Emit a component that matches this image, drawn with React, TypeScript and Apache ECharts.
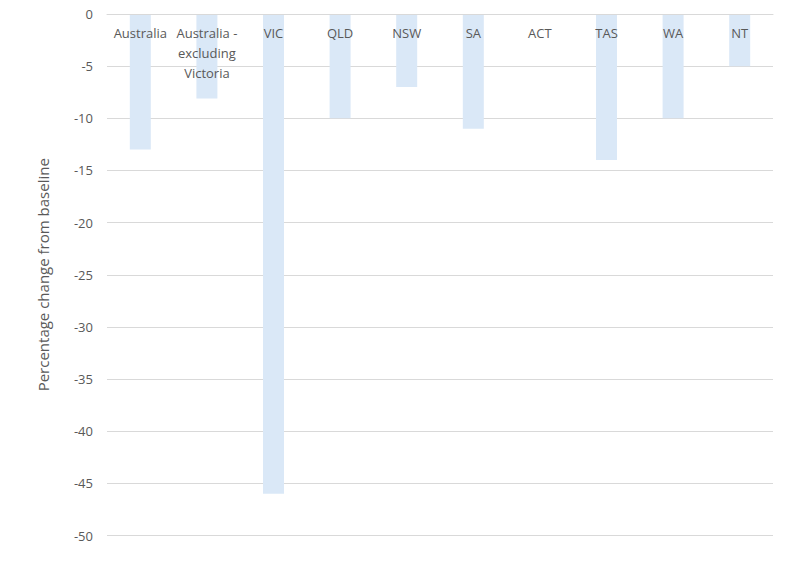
import React, { useEffect, useRef } from "react";
import * as echarts from "echarts";

const categories = [
  "Australia",
  "Australia - excluding Victoria",
  "VIC",
  "QLD",
  "NSW",
  "SA",
  "ACT",
  "TAS",
  "WA",
  "NT",
];
const changeValues = [-13, -8.1, -46, -10, -7, -11, 0, -14, -10, -5];
const yTicks = { min: -50, max: 0, interval: 5 };
const yAxisTitle = "Percentage change from baseline";

export default function App() {
  const ref = useRef<HTMLDivElement>(null);
  useEffect(() => {
    if (!ref.current) return;
    const chart = echarts.init(ref.current, undefined, { renderer: "svg" });
    const font = "'Open Sans', 'Noto Sans', sans-serif";
    chart.setOption({
      animation: false,
      backgroundColor: "#ffffff",
      grid: {
        left: 107,
        right: 27,
        top: 14,
        bottom: 35.5,
        containLabel: false,
        outerBoundsMode: "none",
      },
      xAxis: {
        type: "category",
        data: categories,
        position: "top",
        axisLine: { show: true, lineStyle: { color: "#d9d9d9", width: 1 } },
        axisTick: { show: false },
        axisLabel: {
          inside: true,
          color: "#595959",
          fontFamily: font,
          fontSize: 13,
          lineHeight: 20,
          margin: 9,
          interval: 0,
          verticalAlign: "top",
          formatter: (v: string) => v.replace(" - excluding ", " -\nexcluding\n"),
        },
        z: 3,
      },
      yAxis: {
        type: "value",
        min: yTicks.min,
        max: yTicks.max,
        interval: yTicks.interval,
        name: yAxisTitle,
        nameLocation: "middle",
        nameRotate: 90,
        nameGap: 57,
        nameTextStyle: { color: "#595959", fontFamily: font, fontSize: 15 },
        axisLine: { show: false },
        axisTick: { show: false },
        axisLabel: { color: "#595959", fontFamily: font, fontSize: 13, margin: 14 },
        splitLine: { show: true, lineStyle: { color: "#d9d9d9", width: 1 } },
      },
      series: [
        {
          type: "bar",
          data: changeValues,
          barWidth: 21,
          itemStyle: { color: "#dae8f7" },
          z: 1,
        },
      ],
    });
    return () => chart.dispose();
  }, []);
  return (
    <div
      ref={ref}
      style={{ position: "fixed", left: 0, top: 0, width: 800, height: 571, background: "#fff" }}
    />
  );
}
